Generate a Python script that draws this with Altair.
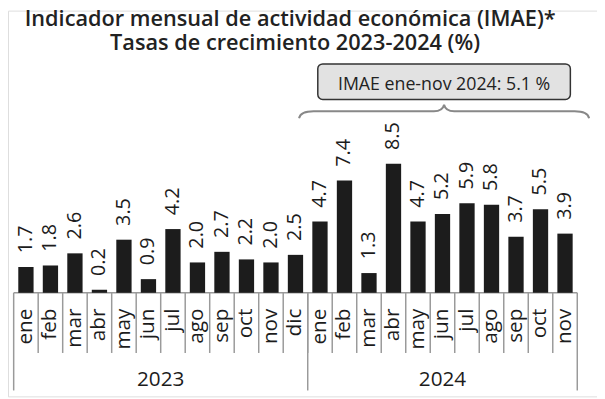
import altair as alt
import pandas as pd

# ---- data ----
months = ["ene", "feb", "mar", "abr", "may", "jun", "jul", "ago", "sep", "oct", "nov", "dic"]
values_2023 = [1.7, 1.8, 2.6, 0.2, 3.5, 0.9, 4.2, 2.0, 2.7, 2.2, 2.0, 2.5]
values_2024 = [4.7, 7.4, 1.3, 8.5, 4.7, 5.2, 5.9, 5.8, 3.7, 5.5, 3.9]
years = ["2023", "2024"]
title_lines = ["Indicador mensual de actividad económica (IMAE)*",
               "Tasas de crecimiento 2023-2024 (%)"]
box_text = "IMAE ene-nov 2024: 5.1 %"

FONT = "Open Sans"
INK = "#1c1c1c"
GRID = "#9a9a9a"

rows = []
idx = 0
for yr, vals in zip(years, [values_2023, values_2024]):
    for m, v in zip(months, vals):
        rows.append({"idx": idx, "mes": m, "anio": yr, "valor": v, "etq": f"{v:.1f}"})
        idx += 1
df = pd.DataFrame(rows)
n = len(df)

# separators between months and between years
sep_month = pd.DataFrame({"pos": [i + 0.5 for i in range(n - 1)]})
year_bounds = [-0.5]
cnt = 0
for vals in [values_2023, values_2024]:
    cnt += len(vals)
    year_bounds.append(cnt - 0.5)
sep_year = pd.DataFrame({"pos": year_bounds})
year_lab = pd.DataFrame({
    "anio": years,
    "centro": [(year_bounds[i] + year_bounds[i + 1]) / 2 for i in range(len(years))],
})
base_line = pd.DataFrame({"a": [-0.5], "b": [n - 0.5]})

xs = alt.Scale(domain=[-0.5, n - 0.5], range=[0.75, 582])
ys = alt.Scale(domain=[0, 18.6], range=[286, 0])

Y0 = 286  # baseline pixel

bars = alt.Chart(df).mark_bar(size=15.5, color=INK).encode(
    x=alt.X("idx:Q", scale=xs, axis=None),
    y=alt.Y("valor:Q", scale=ys, axis=None),
)
vlabels = alt.Chart(df).mark_text(
    angle=270, align="left", baseline="middle", dx=14, fontSize=20,
    font=FONT, color=INK
).encode(
    x=alt.X("idx:Q", scale=xs, axis=None),
    y=alt.Y("valor:Q", scale=ys, axis=None),
    text="etq:N",
)
mlabels = alt.Chart(df).mark_text(
    angle=270, align="right", baseline="middle", fontSize=21,
    font=FONT, color=INK
).encode(
    x=alt.X("idx:Q", scale=xs, axis=None),
    y=alt.value(302),
    text="mes:N",
)
msep = alt.Chart(sep_month).mark_rule(color=GRID, strokeWidth=1.5).encode(
    x=alt.X("pos:Q", scale=xs, axis=None),
    y=alt.value(Y0), y2=alt.value(347),
)
ysep = alt.Chart(sep_year).mark_rule(color=GRID, strokeWidth=1.5).encode(
    x=alt.X("pos:Q", scale=xs, axis=None),
    y=alt.value(Y0), y2=alt.value(385),
)
bline = alt.Chart(base_line).mark_rule(color=GRID, strokeWidth=1.5).encode(
    x=alt.X("a:Q", scale=xs, axis=None), x2="b:Q",
    y=alt.value(Y0),
)
ylabels = alt.Chart(year_lab).mark_text(
    baseline="alphabetic", align="center", fontSize=21, font=FONT, color=INK
).encode(
    x=alt.X("centro:Q", scale=xs, axis=None),
    y=alt.value(380),
    text="anio:N",
)

one = pd.DataFrame({"t": [0]})
t1 = alt.Chart(one).mark_text(
    text=title_lines[0], fontSize=22, fontWeight=600, font=FONT, color="#222",
    align="center", baseline="alphabetic"
).encode(x=alt.value(286), y=alt.value(16))
t2 = alt.Chart(one).mark_text(
    text=title_lines[1], fontSize=22, fontWeight=600, font=FONT, color="#222",
    align="center", baseline="alphabetic"
).encode(x=alt.value(291), y=alt.value(40))

box = alt.Chart(one).mark_rect(
    cornerRadius=5, fill="#e2e2e2", stroke="#333", strokeWidth=1.5
).encode(x=alt.value(314), x2=alt.value(570), y=alt.value(54), y2=alt.value(90))
boxt = alt.Chart(one).mark_text(
    text=box_text, fontSize=18, font=FONT, color="#222",
    align="center", baseline="alphabetic"
).encode(x=alt.value(442), y=alt.value(80))

brace_path = ("M -1 0.048 Q -0.99 0 -0.9 0 L -0.07 0 Q -0.01 0 0 -0.045 "
              "Q 0.01 0 0.07 0 L 0.9 0 Q 0.99 0 1 0.048")
brace = alt.Chart(one).mark_point(
    shape=brace_path, filled=False, color="#888", strokeWidth=2, opacity=1,
    size=294 * 294
).encode(x=alt.value(442), y=alt.value(102))

chart = alt.layer(
    msep, ysep, bline, bars, vlabels, mlabels, ylabels, t1, t2, box, boxt, brace
).properties(
    width=597, height=391,
    autosize=alt.AutoSizeParams(type="none"),
    padding=0,
).configure_view(stroke=None).configure(background="white")

chart.save("out.html", embed_options={"renderer": "svg", "actions": False})
